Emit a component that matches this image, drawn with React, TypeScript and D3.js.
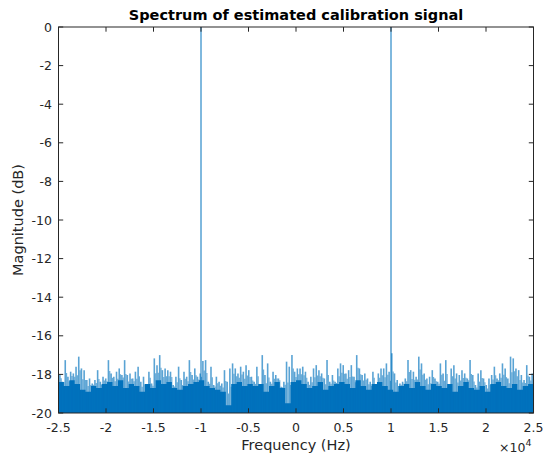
import React from "react";
import * as d3 from "d3";

const W = 544;
const H = 459;

// Noise floor peak values (dB), left to right across -25000..25000 Hz
const noisePeakDb: number[] = [
  -18.0, -18.38, -17.26, -18.12, -17.86, -17.95, -17.6, -17.08, -17.69, -17.78, -18.29, -18.21, -18.47, -18.29, -17.78, -18.38, -18.12, -18.21, -17.26, -17.95, -18.12, -17.86, -17.69, -18.03, -17.26, -18.03, -17.95, -18.21, -17.86, -17.6, -18.38, -18.12, -18.64, -17.86, -18.47,
  -17.17, -17.52, -17.0, -17.78, -17.69, -17.78, -17.86, -18.55, -18.12, -17.6, -18.29, -17.86, -18.12, -17.26, -18.03, -17.69, -18.12, -17.95, -17.3, -17.26, -18.38, -17.6, -18.55, -18.12, -18.38, -18.47, -17.78, -18.38, -17.69, -17.43, -17.69, -17.95, -17.6, -17.86, -17.52,
  -17.78, -18.12, -18.38, -17.6, -18.55, -17.0, -18.03, -17.43, -18.38, -17.86, -18.03, -18.21, -18.64, -18.38, -17.34, -17.6, -17.0, -17.86, -17.69, -17.69, -17.6, -17.86, -18.38, -18.12, -17.69, -17.52, -17.78, -17.95, -18.21, -17.26, -18.38, -18.03, -18.38, -17.69, -17.43,
  -17.52, -17.95, -17.78, -17.52, -18.12, -17.0, -17.69, -18.03, -17.95, -18.21, -18.38, -17.86, -18.55, -17.95, -17.69, -17.69, -17.43, -17.86, -16.9, -17.95, -18.29, -18.47, -18.38, -18.21, -17.26, -17.78, -17.86, -18.12, -17.08, -17.43, -17.95, -18.21, -18.12, -17.78, -18.21,
  -18.38, -17.43, -17.95, -17.26, -18.64, -17.69, -17.52, -17.95, -18.03, -17.78, -17.95, -18.21, -17.26, -18.03, -18.55, -17.95, -17.78, -18.21, -18.55, -18.21, -18.03, -17.6, -18.21, -17.95, -17.43, -17.69, -18.21, -17.08, -17.17, -17.69, -17.78, -18.03, -18.29, -17.52, -18.12, -17.95,
];

// Dense (solid) part of the noise floor (dB), one value per two peak bins
const noiseBodyDb: number[] = [
  -18.4, -18.6, -18.3, -18.5, -18.8, -18.9, -18.6, -18.7, -18.5, -18.4, -18.6, -18.3, -18.7, -18.5, -18.6, -18.9, -18.5, -18.7,
  -18.3, -18.5, -18.4, -18.7, -18.8, -18.6, -18.5, -18.4, -18.3, -18.6, -18.7, -18.8, -18.9, -19.6, -18.5, -18.4, -18.6, -18.5,
  -18.6, -18.5, -18.9, -18.6, -18.4, -18.7, -19.5, -18.4, -18.3, -18.5, -18.7, -18.6, -18.4, -18.8, -18.6, -18.5, -18.4,
  -18.5, -18.7, -18.3, -18.6, -18.8, -18.5, -18.4, -18.6, -18.8, -18.9, -18.6, -18.5, -18.7, -18.4, -18.6, -18.8, -18.5, -18.6,
  -18.7, -18.5, -18.9, -18.6, -18.4, -18.7, -18.8, -18.6, -18.9, -18.5, -18.4, -18.6, -18.7, -18.5, -18.8, -18.6, -18.5, -18.7,
];

// Calibration tones
const toneFreqHz: number[] = [-10000, 10000];
const toneDb: number[] = [0, 0];

const xTicks: number[] = [-2.5, -2, -1.5, -1, -0.5, 0, 0.5, 1, 1.5, 2, 2.5];
const yTicks: number[] = [0, -2, -4, -6, -8, -10, -12, -14, -16, -18, -20];

const fMin = -25000;
const fMax = 25000;

export default function App() {
  const left = 58.5;
  const right = 533.5;
  const top = 27;
  const bottom = 413;
  const x = d3.scaleLinear().domain([fMin, fMax]).range([left, right]);
  const y = d3.scaleLinear().domain([-20, 0]).range([bottom, top]);
  const xt = d3.scaleLinear().domain([-2.5, 2.5]).range([left, right]);

  const n = noisePeakDb.length;
  const freqs = noisePeakDb.map((_, i) => fMin + ((i + 0.5) * (fMax - fMin)) / n);
  const binW = (right - left) / n;

  const bodyPts = noisePeakDb.map((_, i) => ({
    f: freqs[i],
    v: noiseBodyDb[Math.min(noiseBodyDb.length - 1, Math.floor(i / 2))],
  }));
  const bodyPath =
    d3
      .area<{ f: number; v: number }>()
      .x((d) => x(d.f))
      .y0(y(-20))
      .y1((d) => y(d.v))
      .curve(d3.curveStep)([{ f: fMin, v: bodyPts[0].v }, ...bodyPts, { f: fMax, v: bodyPts[n - 1].v }]) || "";

  const color = "#0072BD";
  const axisColor = "#262626";
  const font = "DejaVu Sans, sans-serif";

  return (
    <svg
      width={W}
      height={H}
      style={{ position: "absolute", left: 0, top: 0, background: "#fff" }}
      fontFamily={font}
    >
      <rect x={0} y={0} width={W} height={H} fill="#fff" />
      <path d={bodyPath} fill={color} />
      {noisePeakDb.map((v, i) => (
        <line
          key={"p" + i}
          x1={x(freqs[i])}
          x2={x(freqs[i])}
          y1={y(-20)}
          y2={y(v)}
          stroke={color}
          strokeWidth={1.6}
          strokeOpacity={0.65}
        />
      ))}
      {noisePeakDb.map((v, i) => (
        <line
          key={"q" + i}
          x1={x(freqs[i]) + binW / 2}
          x2={x(freqs[i]) + binW / 2}
          y1={y(-20)}
          y2={y((v + bodyPts[i].v) / 2)}
          stroke={color}
          strokeWidth={1.1}
          strokeOpacity={0.6}
        />
      ))}
      {toneFreqHz.map((f, i) => (
        <line
          key={"t" + i}
          x1={x(f)}
          x2={x(f)}
          y1={y(-20)}
          y2={y(toneDb[i])}
          stroke={color}
          strokeWidth={1}
        />
      ))}
      <rect
        x={left}
        y={top}
        width={right - left}
        height={bottom - top}
        fill="none"
        stroke={axisColor}
        strokeWidth={1}
      />
      {xTicks.map((t) => (
        <g key={"xt" + t}>
          <line x1={xt(t)} x2={xt(t)} y1={bottom} y2={bottom - 4.7} stroke={axisColor} />
          <line x1={xt(t)} x2={xt(t)} y1={top} y2={top + 4.7} stroke={axisColor} />
          <text x={xt(t)} y={432} textAnchor="middle" fontSize={12.5} fill={axisColor}>
            {t}
          </text>
        </g>
      ))}
      {yTicks.map((t) => (
        <g key={"yt" + t}>
          <line x1={left} x2={left + 4.7} y1={y(t)} y2={y(t)} stroke={axisColor} />
          <line x1={right} x2={right - 4.7} y1={y(t)} y2={y(t)} stroke={axisColor} />
          <text x={52} y={y(t) + 4.5} textAnchor="end" fontSize={12.5} fill={axisColor}>
            {t}
          </text>
        </g>
      ))}
      <text x={499} y={452} fontSize={12.5} fill={axisColor}>
        <tspan>×10</tspan>
        <tspan dy={-6} fontSize={9.5}>
          4
        </tspan>
      </text>
      <text x={296} y={450} textAnchor="middle" fontSize={14.5} fill={axisColor}>
        Frequency (Hz)
      </text>
      <text transform={`translate(23, 220) rotate(-90)`} textAnchor="middle" fontSize={14.5} fill={axisColor}>
        Magnitude (dB)
      </text>
      <text x={296} y={20} textAnchor="middle" fontSize={14.5} fontWeight="bold" fill="#000">
        Spectrum of estimated calibration signal
      </text>
    </svg>
  );
}
